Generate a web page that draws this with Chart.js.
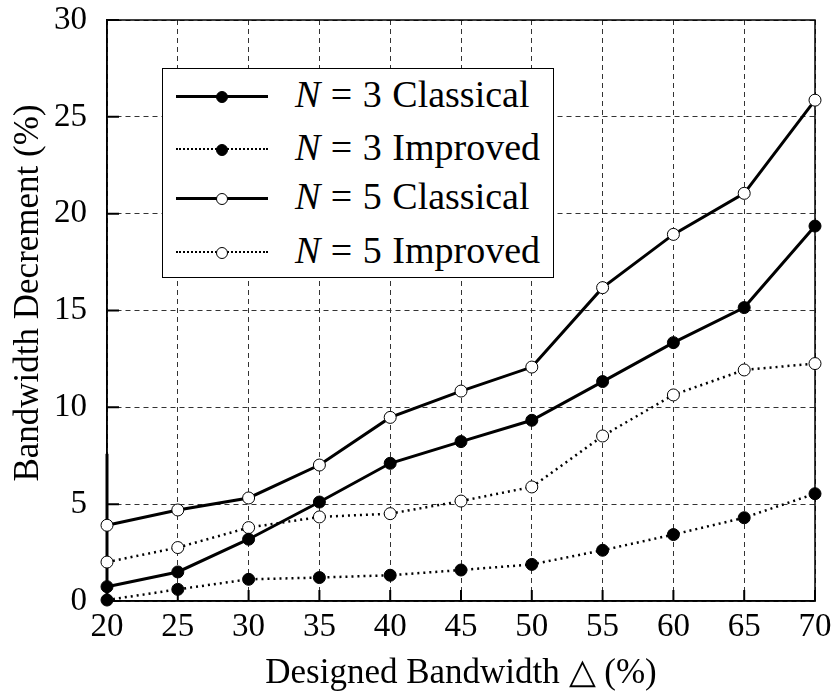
<!DOCTYPE html>
<html lang="en">
<head>
    <meta charset="UTF-8">
    <title>Bandwidth Decrement</title>
    <style>
        body {
            margin: 0;
            background-color: #fff;
        }
        .wrap {
            position: relative;
            width: 836px;
            height: 698px;
        }
        .legend {
            position: absolute;
            left: 162px;
            top: 68px;
            width: 390px;
            height: 208px;
            border: 1px solid #000;
            background-color: #fff;
            font-family: "Liberation Serif", "Times New Roman", serif;
            font-size: 38px;
            word-spacing: 1px;
            color: #000;
        }
        .row {
            position: absolute;
            left: 0;
            width: 100%;
            height: 52px;
        }
        .sample {
            position: absolute;
            left: 13px;
            top: 26px;
            width: 92px;
            height: 0;
        }
        .sample.solid { border-top: 3px solid #000; margin-top: -1.5px; }
        .sample.dotted { border-top: 2px dotted #000; margin-top: -1px; }
        .mark {
            position: absolute;
            left: 40px;
            top: -7px;
            width: 10px;
            height: 10px;
            border-radius: 50%;
            border: 1px solid #000;
        }
        .dotted .mark { top: -6px; }
        .mark.filled { background-color: #000; }
        .mark.open { background-color: #fff; }
        .label {
            position: absolute;
            left: 132px;
            top: 2px;
            line-height: 44px;
            white-space: nowrap;
        }
    </style>
</head>
<body>
    <div class="wrap">
        <canvas id="chart" width="836" height="698"></canvas>
        <div class="legend">
            <div class="row" style="top: 1px;">
                <div class="sample solid"><div class="mark filled"></div></div>
                <div class="label"><i>N</i> = 3 Classical</div>
            </div>
            <div class="row" style="top: 54px;">
                <div class="sample dotted"><div class="mark filled"></div></div>
                <div class="label"><i>N</i> = 3 Improved</div>
            </div>
            <div class="row" style="top: 103px;">
                <div class="sample solid"><div class="mark open"></div></div>
                <div class="label"><i>N</i> = 5 Classical</div>
            </div>
            <div class="row" style="top: 157px;">
                <div class="sample dotted"><div class="mark open"></div></div>
                <div class="label"><i>N</i> = 5 Improved</div>
            </div>
        </div>
    </div>
    <script src="https://cdn.jsdelivr.net/npm/chart.js"></script>
    <script>
        // designed bandwidth (%)
        const bandwidth = [20, 25, 30, 35, 40, 45, 50, 55, 60, 65, 70];
        // bandwidth decrement (%)
        const n3Classical = [0.74, 1.50, 3.19, 5.11, 7.11, 8.23, 9.33, 11.33, 13.34, 15.15, 19.36];
        const n3Improved = [0.05, 0.60, 1.12, 1.21, 1.33, 1.60, 1.89, 2.62, 3.43, 4.30, 5.54];
        const n5Classical = [3.91, 4.70, 5.32, 7.02, 9.48, 10.84, 12.08, 16.18, 18.93, 21.05, 25.86];
        const n5Improved = [2.01, 2.76, 3.79, 4.34, 4.51, 5.16, 5.89, 8.52, 10.64, 11.93, 12.26];

        const xTicks = [20, 25, 30, 35, 40, 45, 50, 55, 60, 65, 70];
        const yTicks = [0, 5, 10, 15, 20, 25, 30];
        // the left axis is drawn heavier from 0 up to about here in the original
        const heavyAxisTop = 7.6;

        const serif = '"Liberation Serif", "Times New Roman", serif';

        function toPoints(values) {
            return values.map((v, i) => ({ x: bandwidth[i], y: v }));
        }

        function series(label, values, dotted, filled) {
            return {
                label: label,
                data: toPoints(values),
                borderColor: '#000',
                borderWidth: dotted ? 2.5 : 3,
                borderDash: dotted ? [2, 4] : [],
                pointRadius: 6,
                pointBorderWidth: 1,
                pointBorderColor: '#000',
                pointBackgroundColor: filled ? '#000' : '#fff',
                tension: 0,
                clip: false
            };
        }

        // solid frame plus the short inward tick marks
        const framePlugin = {
            id: 'frame',
            beforeDatasetsDraw(chart) {
                const c = chart.ctx;
                const a = chart.chartArea;
                const xs = chart.scales.x;
                const ys = chart.scales.y;
                c.save();
                c.strokeStyle = '#000';
                c.setLineDash([]);
                c.lineWidth = 1.5;
                c.strokeRect(a.left, a.top, a.right - a.left, a.bottom - a.top);
                c.lineWidth = 2;
                c.beginPath();
                xTicks.forEach(t => {
                    const px = xs.getPixelForValue(t);
                    c.moveTo(px, a.bottom);
                    c.lineTo(px, a.bottom - 11);
                });
                yTicks.forEach(t => {
                    const py = ys.getPixelForValue(t);
                    c.moveTo(a.left, py);
                    c.lineTo(a.left + 12, py);
                });
                c.stroke();
                c.lineWidth = 3;
                c.beginPath();
                c.moveTo(a.left, ys.getPixelForValue(0));
                c.lineTo(a.left, ys.getPixelForValue(heavyAxisTop));
                c.stroke();
                c.restore();
            }
        };

        const ctx = document.getElementById('chart').getContext('2d');
        const chart = new Chart(ctx, {
            type: 'line',
            data: {
                datasets: [
                    series('N = 3 Classical', n3Classical, false, true),
                    series('N = 3 Improved', n3Improved, true, true),
                    series('N = 5 Classical', n5Classical, false, false),
                    series('N = 5 Improved', n5Improved, true, false)
                ]
            },
            options: {
                responsive: false,
                animation: false,
                layout: {
                    padding: { top: 0, right: 0, bottom: 3, left: 3 }
                },
                plugins: {
                    legend: { display: false },
                    tooltip: { enabled: false }
                },
                scales: {
                    x: {
                        type: 'linear',
                        min: 20,
                        max: 70,
                        afterBuildTicks: axis => { axis.ticks = xTicks.map(v => ({ value: v })); },
                        afterFit: axis => { axis.paddingRight = 21; axis.height = 94; },
                        ticks: {
                            color: '#000',
                            font: { family: serif, size: 33 },
                            padding: 7
                        },
                        grid: { color: '#333', lineWidth: 1, drawTicks: false },
                        border: { display: true, color: '#000', width: 1.5, dash: [5, 4] },
                        title: {
                            display: true,
                            text: 'Designed Bandwidth \u25B3 (%)',
                            color: '#000',
                            font: { family: serif, size: 35 },
                            padding: { top: 4, bottom: 0 }
                        }
                    },
                    y: {
                        min: 0,
                        max: 30,
                        afterBuildTicks: axis => { axis.ticks = yTicks.map(v => ({ value: v })); },
                        afterFit: axis => { axis.paddingTop = 20; axis.width = 104; },
                        ticks: {
                            color: '#000',
                            font: { family: serif, size: 33 },
                            padding: 20
                        },
                        grid: { color: '#333', lineWidth: 1, drawTicks: false },
                        border: { display: true, color: '#000', width: 1.5, dash: [5, 4] },
                        title: {
                            display: true,
                            // leading en spaces nudge the label up, as in the original
                            text: '\u2002\u2002Bandwidth Decrement (%)',
                            color: '#000',
                            font: { family: serif, size: 35 },
                            padding: { top: 5, bottom: 5 }
                        }
                    }
                }
            },
            plugins: [framePlugin]
        });
    </script>
</body>
</html>
